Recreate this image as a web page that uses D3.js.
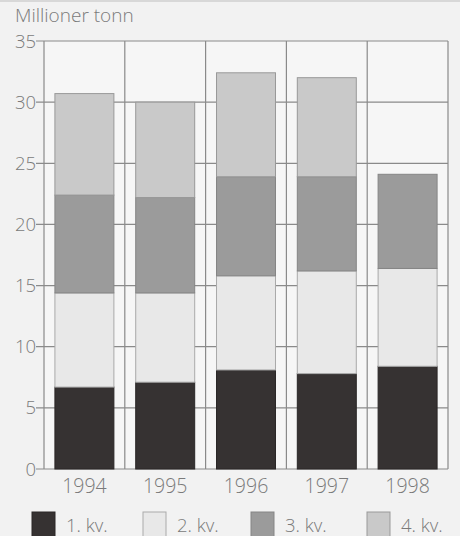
<!DOCTYPE html>
<html><head><meta charset="utf-8">
<script src="https://cdn.jsdelivr.net/npm/d3@7"></script>
<style>
html,body{margin:0;padding:0;background:#f2f2f2;}
svg{display:block;}
text{font-family:"Open Sans","DejaVu Sans",sans-serif;font-weight:300;fill:#7a7a7a;}
</style></head>
<body>
<svg id="c" width="460" height="536"></svg>
<script>
const years = ["1994","1995","1996","1997","1998"];
const quarters = ["1. kv.","2. kv.","3. kv.","4. kv."];
const q1 = [6.7, 7.1, 8.1, 7.8, 8.4];
const q2 = [7.7, 7.3, 7.7, 8.4, 8.0];
const q3 = [8.0, 7.8, 8.1, 7.7, 7.7];
const q4 = [8.3, 7.8, 8.5, 8.1, 0];
const yTicks = [0,5,10,15,20,25,30,35];
const colors = ["#363232","#e8e8e8","#9b9b9b","#c9c9c9"];
const strokes = ["#2a2727","#aaaaaa","#858585","#999999"];

const svg = d3.select("#c");
const L=44, R=448, T=41, B=469;
const x = d3.scaleBand().domain(years).range([L,R]).paddingInner(0.27).paddingOuter(0.135);
const xb = d3.scaleBand().domain(years).range([L,R]);
const y = d3.scaleLinear().domain([0,35]).range([B,T]);

svg.append("line").attr("x1",0).attr("x2",460).attr("y1",1).attr("y2",1).attr("stroke","#d8d8d8").attr("stroke-width",2);

svg.append("rect").attr("x",L).attr("y",T).attr("width",R-L).attr("height",B-T).attr("fill","#f6f6f6");

svg.append("g").selectAll("line").data(yTicks).join("line")
  .attr("x1",L-8).attr("x2",R).attr("y1",d=>y(d)).attr("y2",d=>y(d))
  .attr("stroke","#8a8a8a").attr("stroke-width",1.2);
const vx = years.map(d=>xb(d)).concat([R]);
svg.append("g").selectAll("line").data(vx).join("line")
  .attr("x1",d=>d).attr("x2",d=>d).attr("y1",T).attr("y2",B)
  .attr("stroke","#8a8a8a").attr("stroke-width",1.2);

const rows = years.map((yr,i)=>({year:yr, "1. kv.":q1[i], "2. kv.":q2[i], "3. kv.":q3[i], "4. kv.":q4[i]}));
const stack = d3.stack().keys(quarters)(rows);
svg.append("g").selectAll("g").data(stack).join("g")
  .attr("fill",(d,i)=>colors[i]).attr("stroke",(d,i)=>strokes[i]).attr("stroke-width",1)
  .selectAll("rect").data(d=>d.filter(s=>s[1]-s[0]>0)).join("rect")
  .attr("x",d=>x(d.data.year)).attr("width",x.bandwidth())
  .attr("y",d=>y(d[1])).attr("height",d=>y(d[0])-y(d[1]));

svg.append("g").selectAll("text").data(yTicks).join("text")
  .attr("x",36).attr("y",d=>y(d)+6.5).attr("text-anchor","end")
  .attr("font-size",18.5).text(d=>d);
svg.append("g").selectAll("text").data(years).join("text")
  .attr("x",d=>xb(d)+xb.bandwidth()/2).attr("y",493).attr("text-anchor","middle")
  .attr("font-size",19.5).text(d=>d);

svg.append("text").attr("x",15).attr("y",22).attr("font-size",19).text("Millioner tonn");

const lx = [32,143,251,367];
const lg = svg.append("g").selectAll("g").data(quarters).join("g")
  .attr("transform",(d,i)=>`translate(${lx[i]},512)`);
lg.append("rect").attr("width",23).attr("height",26).attr("fill",(d,i)=>colors[i]).attr("stroke",(d,i)=>strokes[i]);
lg.append("text").attr("x",34).attr("y",20).attr("font-size",18.5).text(d=>d);
</script>
</body></html>
